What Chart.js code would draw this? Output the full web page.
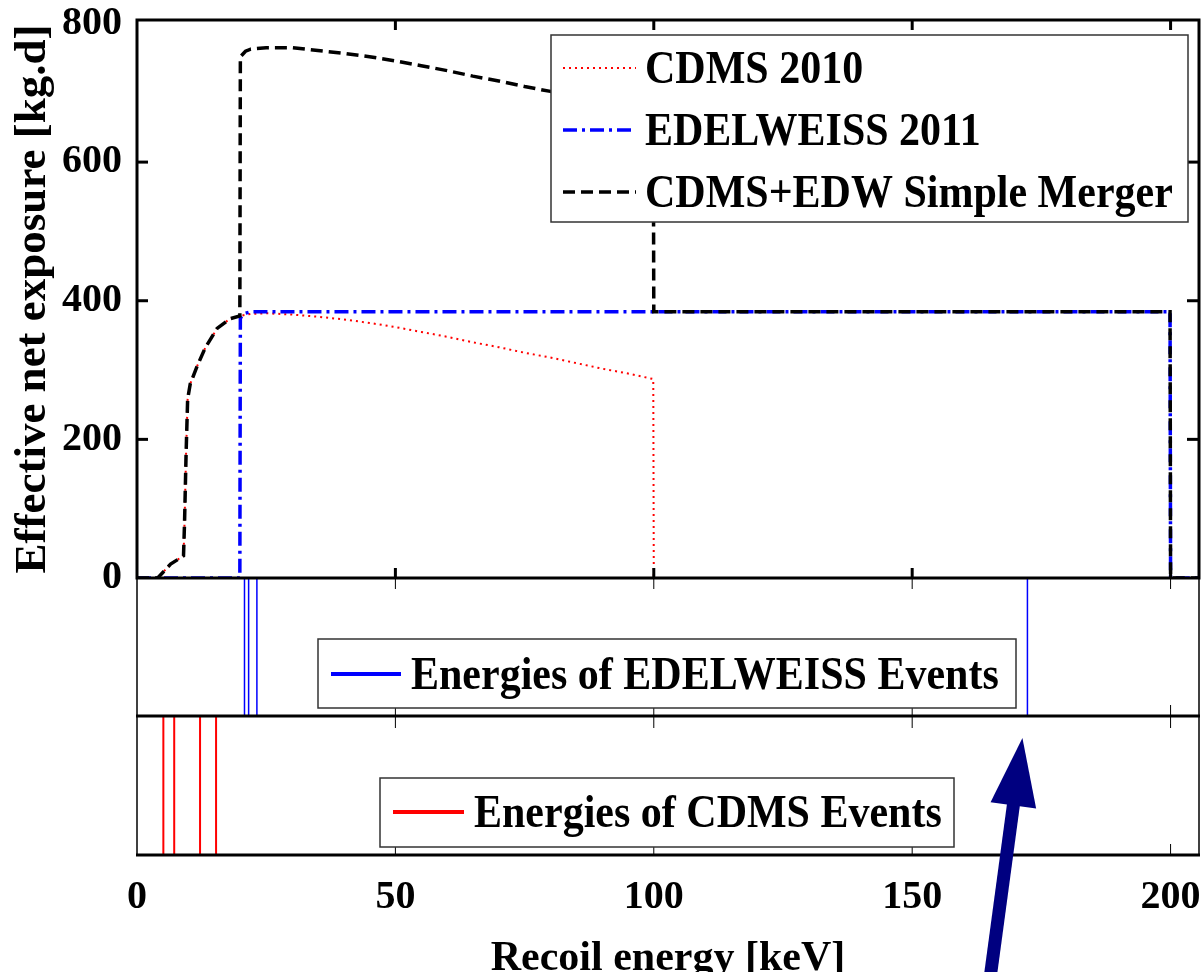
<!DOCTYPE html>
<html>
<head>
<meta charset="utf-8">
<title>Effective net exposure vs recoil energy</title>
<script src="https://cdn.jsdelivr.net/npm/chart.js@4.4.1/dist/chart.umd.min.js"></script>
<style>
  html, body { margin: 0; padding: 0; background: #fff; overflow: hidden; }
  canvas { display: block; }
</style>
</head>
<body>
<canvas id="chart" width="1202" height="1000"></canvas>
<script>
// values: recoil energy in keV, exposure in kg.d
const cdmsEnergy   = [0, 4, 5, 6.5, 9, 9.2, 9.5, 9.8, 10.3, 11.6, 13.2, 15.5, 18, 19.9, 22, 25, 30, 35, 40, 45, 50, 55, 60, 65, 70, 75, 80, 85, 90, 95, 99.9, 100, 205.5];
const cdmsExposure = [0, 0, 8, 20, 32, 80, 180, 258, 280, 305, 332, 360, 374, 378, 381, 382, 380, 377, 373, 368, 362, 355, 348, 340, 333, 325, 318, 310, 302, 295, 287, 0, 0];

const edwEnergy   = [0, 19.9, 20, 21, 22, 199.9, 200, 205.5];
const edwExposure = [0, 0, 375, 382, 384, 384, 0, 0];

const mergerEnergy   = [0, 4, 5, 6.5, 9, 9.2, 9.5, 9.8, 10.3, 11.6, 13.2, 15.5, 18, 19.9, 20, 21, 22, 25, 30, 35, 40, 45, 50, 55, 60, 65, 70, 75, 80, 85, 90, 95, 99.9, 100, 199.9, 200, 205.5];
const mergerExposure = [0, 0, 8, 20, 32, 80, 180, 258, 280, 305, 332, 360, 374, 378, 752, 760, 763, 765, 765, 761, 757, 752, 746, 739, 732, 724, 717, 709, 702, 694, 686, 679, 671, 384, 384, 0, 0];

// energies of the individual events (keV)
const edwEvents  = [20.8, 21.6, 23.2, 172.3];
const cdmsEvents = [5.1, 7.2, 12.2, 15.3];

const xTickValues = [0, 50, 100, 150, 200];
const yTickValues = [0, 200, 400, 600, 800];

const FONT = 'Liberation Serif, Times New Roman, serif';

const toPoints = (xs, ys) => xs.map((x, i) => ({ x: x, y: ys[i] }));
// one vertical segment per event, separated by gaps
const eventPoints = list => list.flatMap(e => [{ x: e, y: 0 }, { x: e, y: 1 }, { x: e, y: null }]);

function line(ctx, x1, y1, x2, y2) {
  ctx.beginPath();
  ctx.moveTo(x1, y1);
  ctx.lineTo(x2, y2);
  ctx.stroke();
}

// box, ticks and arrow
const framePlugin = {
  id: 'frame',
  afterDatasetsDraw(chart) {
    const { ctx, chartArea: a, scales } = chart;
    const xs = scales.x, ym = scales.y, ye = scales.yEdw, yc = scales.yCdms;
    ctx.save();
    ctx.strokeStyle = '#000';
    ctx.setLineDash([]);

    // thin sides of the two event panels
    ctx.lineWidth = 1.5;
    line(ctx, a.left, ym.bottom, a.left, yc.bottom);
    line(ctx, a.right, ym.bottom, a.right, yc.bottom);

    // panel ticks (thin)
    ctx.lineWidth = 1;
    xTickValues.slice(1).forEach(v => {
      const px = xs.getPixelForValue(v);
      line(ctx, px, ye.top, px, ye.top + 11);
      line(ctx, px, ye.bottom, px, ye.bottom - 11);
      line(ctx, px, yc.top, px, yc.top + 12);
      line(ctx, px, yc.bottom, px, yc.bottom - 11);
    });

    // main box and axis lines (thick)
    ctx.lineWidth = 3;
    ctx.strokeRect(a.left, ym.top, a.right - a.left, ym.bottom - ym.top);
    line(ctx, a.left - 1, ye.bottom, a.right + 1, ye.bottom);
    line(ctx, a.left - 1, yc.bottom, a.right + 1, yc.bottom);

    xTickValues.slice(1).forEach(v => {
      const px = xs.getPixelForValue(v);
      line(ctx, px, ym.top, px, ym.top + 10);
      line(ctx, px, ym.bottom, px, ym.bottom - 10);
    });
    yTickValues.slice(1, 4).forEach(v => {
      const py = ym.getPixelForValue(v);
      line(ctx, a.left, py, a.left + 11, py);
      line(ctx, a.right, py, a.right - 12, py);
    });

    // arrow pointing at the high-energy EDELWEISS event
    const tipX = xs.getPixelForValue(edwEvents[3]) - 5;
    const tipY = ye.bottom + 22;
    const tailX = tipX - 33, tailY = tipY + 245;
    const len = Math.hypot(tipX - tailX, tipY - tailY);
    const ux = (tipX - tailX) / len, uy = (tipY - tailY) / len;
    const baseX = tipX - ux * 68, baseY = tipY - uy * 68;
    ctx.strokeStyle = '#000080';
    ctx.fillStyle = '#000080';
    ctx.lineWidth = 13;
    line(ctx, tailX, tailY, baseX + ux * 5, baseY + uy * 5);
    ctx.beginPath();
    ctx.moveTo(tipX, tipY);
    ctx.lineTo(baseX - uy * 23, baseY + ux * 23);
    ctx.lineTo(baseX + uy * 23, baseY - ux * 23);
    ctx.closePath();
    ctx.fill();
    ctx.restore();
  }
};

// the three boxed legends
const legendPlugin = {
  id: 'boxLegends',
  afterDatasetsDraw(chart) {
    const { ctx } = chart;
    const ds = chart.data.datasets;
    const boxes = [
      { l: 551, t: 35, r: 1188, b: 222, x1: 563, x2: 636, tx: 645, rows: [[0, 71], [1, 133], [2, 195]] },
      { l: 318, t: 639, r: 1016, b: 708, x1: 331, x2: 401, tx: 411, rows: [[3, 677]] },
      { l: 380, t: 778, r: 954, b: 847, x1: 393, x2: 464, tx: 474, rows: [[4, 815]] }
    ];
    ctx.save();
    boxes.forEach(bx => {
      ctx.fillStyle = '#fff';
      ctx.fillRect(bx.l, bx.t, bx.r - bx.l, bx.b - bx.t);
      ctx.strokeStyle = '#333';
      ctx.lineWidth = 1.5;
      ctx.setLineDash([]);
      ctx.strokeRect(bx.l, bx.t, bx.r - bx.l, bx.b - bx.t);
      bx.rows.forEach(([i, y]) => {
        const d = ds[i];
        ctx.strokeStyle = d.borderColor;
        ctx.lineWidth = d.legendWidth || d.borderWidth;
        ctx.setLineDash(d.borderDash || []);
        line(ctx, bx.x1, y - 3, bx.x2, y - 3);
        ctx.setLineDash([]);
        // the original lettering is a little taller than plain Times
        ctx.save();
        ctx.translate(bx.tx, y);
        ctx.scale(1, 1.12);
        ctx.fillStyle = '#000';
        ctx.font = 'bold 42px ' + FONT;
        ctx.textBaseline = 'middle';
        ctx.textAlign = 'left';
        ctx.fillText(d.label, 0, 0);
        ctx.restore();
      });
    });
    ctx.restore();
  }
};

const tickFont = { family: FONT, size: 40, weight: 'bold' };
const titleFont = { family: FONT, size: 42, weight: 'bold' };

const panelAxis = (weight) => ({
  type: 'linear',
  position: 'left',
  stack: 'panels',
  stackWeight: weight,
  min: 0,
  max: 1,
  ticks: { display: false },
  grid: { display: false, drawTicks: false },
  border: { display: false },
  afterFit(s) { s.width = 137; s.paddingTop = 0; s.paddingBottom = 0; }
});

new Chart(document.getElementById('chart'), {
  type: 'line',
  data: {
    datasets: [
      { label: 'CDMS 2010', data: toPoints(cdmsEnergy, cdmsExposure), yAxisID: 'y',
        borderColor: '#ff0000', borderWidth: 2, borderDash: [2, 4], order: 2 },
      { label: 'EDELWEISS 2011', data: toPoints(edwEnergy, edwExposure), yAxisID: 'y',
        borderColor: '#0000ff', borderWidth: 3.5, borderDash: [14, 5, 3, 5], order: 1 },
      { label: 'CDMS+EDW Simple Merger', data: toPoints(mergerEnergy, mergerExposure), yAxisID: 'y',
        borderColor: '#000000', borderWidth: 3.5, borderDash: [12, 6], order: 0 },
      { label: 'Energies of EDELWEISS Events', data: eventPoints(edwEvents), yAxisID: 'yEdw',
        borderColor: '#0000ff', borderWidth: 1.5, legendWidth: 4, order: 3 },
      { label: 'Energies of CDMS Events', data: eventPoints(cdmsEvents), yAxisID: 'yCdms',
        borderColor: '#ff0000', borderWidth: 2, legendWidth: 4, order: 3 }
    ]
  },
  options: {
    responsive: false,
    animation: false,
    spanGaps: false,
    layout: { padding: { top: 20, right: 3, left: 0, bottom: 0 } },
    elements: { point: { radius: 0, hoverRadius: 0 }, line: { tension: 0, fill: false } },
    plugins: { legend: { display: false }, tooltip: { enabled: false } },
    scales: {
      x: {
        type: 'linear',
        min: 0,
        max: 205.5,
        afterBuildTicks(s) { s.ticks = xTickValues.map(v => ({ value: v })); },
        ticks: { font: tickFont, color: '#000', padding: 19, maxRotation: 0, autoSkip: false },
        grid: { display: false, drawTicks: false },
        border: { display: false },
        title: { display: true, text: 'Recoil energy [keV]', font: titleFont, color: '#000', padding: { top: 0, bottom: 16 } },
        afterFit(s) { s.height = 145; s.paddingLeft = 0; s.paddingRight = 0; }
      },
      // bottom panel first, main plot last: left stacks are laid out top-down in reverse order
      yCdms: panelAxis(139),
      yEdw: panelAxis(138),
      y: {
        type: 'linear',
        position: 'left',
        stack: 'panels',
        stackWeight: 558,
        min: 0,
        max: 805,
        afterBuildTicks(s) { s.ticks = yTickValues.map(v => ({ value: v })); },
        ticks: { font: tickFont, color: '#000', padding: 15 },
        grid: { display: false, drawTicks: false },
        border: { display: false },
        title: { display: true, text: 'Effective net exposure [kg.d]', font: { family: FONT, size: 45, weight: 'bold' }, color: '#000', padding: { top: 6, bottom: 0 } },
        afterFit(s) { s.width = 137; s.paddingTop = 0; s.paddingBottom = 0; }
      }
    }
  },
  plugins: [framePlugin, legendPlugin]
});
</script>
</body>
</html>
